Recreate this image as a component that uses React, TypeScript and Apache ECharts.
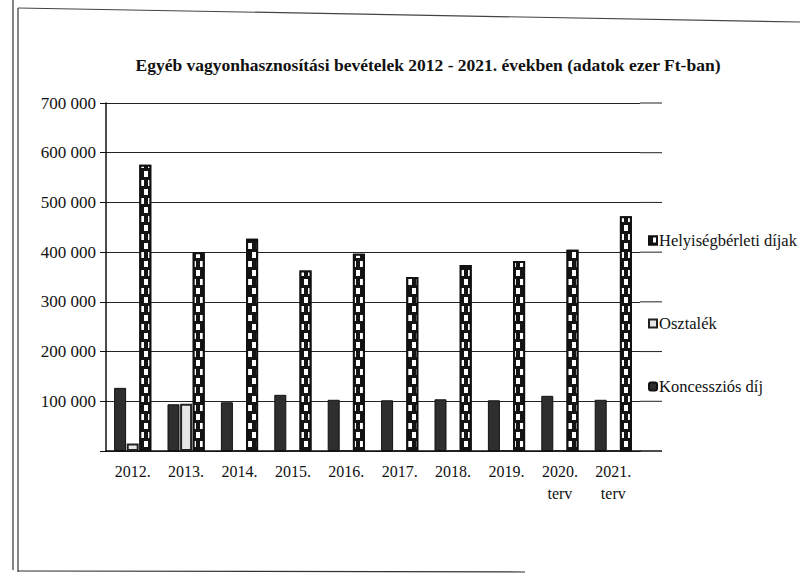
import React, { useEffect, useRef } from "react";
import * as echarts from "echarts";

const categories = ["2012.", "2013.", "2014.", "2015.", "2016.", "2017.", "2018.", "2019.", "2020.\nterv", "2021.\nterv"];
const koncesszios = [127000, 94000, 98000, 113000, 103000, 102000, 104000, 102000, 111000, 103000];
const osztalek = [15000, 95000, 0, 0, 0, 0, 0, 0, 0, 0];
const helyisegberleti = [576000, 400000, 427000, 363000, 397000, 350000, 374000, 382000, 405000, 472000];
const yTicks = [0, 100000, 200000, 300000, 400000, 500000, 600000, 700000];

const SERIF = "Liberation Serif";

const fmt = (v: number) => (v === 0 ? "" : String(v).replace(/\B(?=(\d{3})+(?!\d))/g, " "));

export default function App() {
  const ref = useRef<HTMLDivElement>(null);
  useEffect(() => {
    if (!ref.current) return;
    const chart = echarts.init(ref.current, undefined, { renderer: "svg" });
    const gridLeft = 106;
    const gridRight = 640;
    const legendText = { fontFamily: SERIF, fontSize: 16.5, color: "#111", padding: [0, 0, 0, -3] };
    const option: any = {
      animation: false,
      backgroundColor: "#ffffff",
      textStyle: { fontFamily: SERIF },
      title: {
        text: "Egyéb vagyonhasznosítási bevételek 2012 - 2021. években (adatok ezer Ft-ban)",
        left: 423,
        top: 51,
        textAlign: "center",
        textStyle: { fontFamily: SERIF, fontWeight: "bold", fontSize: 17.5, color: "#111" },
      },
      legend: [
        { data: ["Helyiségbérleti díjak"], left: 643, top: 227, itemWidth: 8, itemHeight: 8, icon: "rect", textStyle: legendText },
        { data: ["Osztalék"], left: 643, top: 310, itemWidth: 8, itemHeight: 8, icon: "rect", textStyle: legendText },
        { data: ["Koncessziós díj"], left: 643, top: 373, itemWidth: 8, itemHeight: 8, icon: "roundRect", textStyle: legendText },
      ],
      grid: { left: gridLeft, top: 103, width: gridRight - gridLeft, bottom: 134, containLabel: false },
      xAxis: {
        type: "category",
        data: categories,
        axisLine: { show: true, lineStyle: { color: "#111", width: 1.5 } },
        axisTick: { show: false },
        axisLabel: { fontFamily: SERIF, fontSize: 16, color: "#111", margin: 9, lineHeight: 22, interval: 0 },
      },
      yAxis: {
        type: "value",
        min: 0,
        max: 700000,
        interval: 100000,
        axisLine: { show: true, lineStyle: { color: "#111", width: 1.5 } },
        axisTick: { show: true, length: 6, lineStyle: { color: "#111" } },
        axisLabel: { fontFamily: SERIF, fontSize: 17, color: "#111", margin: 10, formatter: (v: number) => fmt(v) },
        splitLine: { show: true, lineStyle: { color: "#222", width: 1 } },
      },
      series: [
        {
          name: "Koncessziós díj",
          type: "bar",
          data: koncesszios,
          barWidth: 12,
          barGap: "5%",
          itemStyle: { color: "#2e2e2e", borderColor: "#111", borderWidth: 1 },
        },
        {
          name: "Osztalék",
          type: "bar",
          data: osztalek,
          barWidth: 12,
          barGap: "5%",
          itemStyle: { color: "#e6e6e6", borderColor: "#222", borderWidth: 2 },
        },
        {
          name: "Helyiségbérleti díjak",
          type: "bar",
          data: helyisegberleti,
          barWidth: 12,
          barGap: "5%",
          itemStyle: {
            color: "#141414",
            borderColor: "#111",
            borderWidth: 2,
            decal: {
              symbol: "rect",
              symbolSize: 1,
              color: "#ffffff",
              dashArrayX: [[4, 4], [0, 4, 4, 0]],
              dashArrayY: [6, 3],
            },
          },
        },
      ],
    };
    chart.setOption(option);

    const ext: any[] = [];
    yTicks.forEach((v) => {
      const y = chart.convertToPixel({ yAxisIndex: 0 }, v) as number;
      ext.push({
        type: "line",
        shape: { x1: gridRight, y1: y, x2: 662, y2: y },
        style: { stroke: v === 0 ? "#111" : "#222", lineWidth: v === 0 ? 1.5 : 1 },
        silent: true,
      });
    });
    ext.push(
      { type: "line", shape: { x1: 13, y1: 0, x2: 13, y2: 570 }, style: { stroke: "#333", lineWidth: 1.2 }, silent: true },
      { type: "line", shape: { x1: 18, y1: 8, x2: 18, y2: 572 }, style: { stroke: "#333", lineWidth: 1.2 }, silent: true },
      { type: "line", shape: { x1: 18, y1: 8, x2: 800, y2: 22 }, style: { stroke: "#444", lineWidth: 1.2 }, silent: true },
      { type: "line", shape: { x1: 18, y1: 571, x2: 525, y2: 572 }, style: { stroke: "#333", lineWidth: 1.2 }, silent: true }
    );
    chart.setOption({ graphic: ext });

    return () => chart.dispose();
  }, []);
  return <div ref={ref} style={{ width: 800, height: 585, position: "absolute", left: 0, top: 0 }} />;
}
